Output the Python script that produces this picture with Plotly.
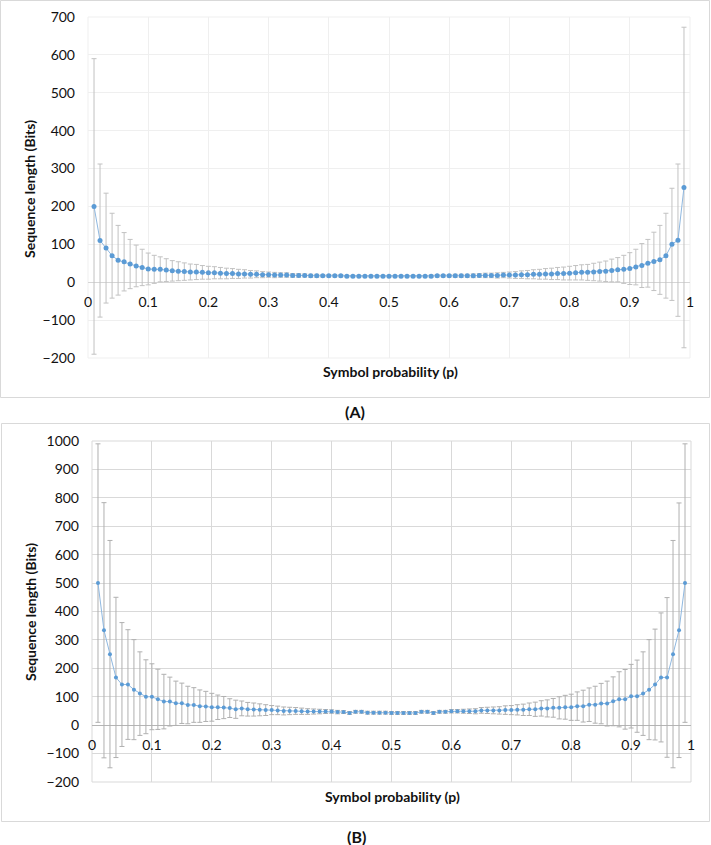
import plotly.graph_objects as go

# --- data ---
p = [0.01, 0.02, 0.03, 0.04, 0.05, 0.06, 0.07, 0.08, 0.09, 0.10,
     0.11, 0.12, 0.13, 0.14, 0.15, 0.16, 0.17, 0.18, 0.19, 0.20,
     0.21, 0.22, 0.23, 0.24, 0.25, 0.26, 0.27, 0.28, 0.29, 0.30,
     0.31, 0.32, 0.33, 0.34, 0.35, 0.36, 0.37, 0.38, 0.39, 0.40,
     0.41, 0.42, 0.43, 0.44, 0.45, 0.46, 0.47, 0.48, 0.49, 0.50,
     0.51, 0.52, 0.53, 0.54, 0.55, 0.56, 0.57, 0.58, 0.59, 0.60,
     0.61, 0.62, 0.63, 0.64, 0.65, 0.66, 0.67, 0.68, 0.69, 0.70,
     0.71, 0.72, 0.73, 0.74, 0.75, 0.76, 0.77, 0.78, 0.79, 0.80,
     0.81, 0.82, 0.83, 0.84, 0.85, 0.86, 0.87, 0.88, 0.89, 0.90,
     0.91, 0.92, 0.93, 0.94, 0.95, 0.96, 0.97, 0.98, 0.99]

len_a = [200, 110, 90, 70, 58, 54, 48, 43, 39, 35,
         34, 34, 32, 30, 29, 28, 27, 27, 26, 25,
         25, 24, 23, 23, 22, 22, 21, 21, 20, 20,
         19, 19, 19, 18, 18, 18, 17, 17, 17, 17,
         17, 17, 16, 16, 16, 16, 16, 16, 16, 16,
         16, 16, 16, 16, 16, 16, 16, 17, 17, 17,
         17, 17, 17, 17, 18, 18, 18, 18, 19, 19,
         19, 20, 20, 21, 21, 22, 22, 23, 23, 24,
         25, 26, 26, 27, 28, 29, 31, 33, 34, 36,
         40, 44, 50, 55, 59, 70, 100, 111, 250]

err_a = [390, 202, 145, 112, 92, 77, 65, 55, 48, 42,
         37, 33, 30, 27, 25, 23, 21, 20, 18, 17,
         16, 15, 14, 13, 12, 11, 10, 9, 8, 7,
         7, 6, 6, 5, 5, 4, 4, 4, 3, 3,
         3, 3, 2, 2, 2, 2, 2, 2, 2, 2,
         2, 2, 2, 2, 2, 2, 3, 3, 3, 3,
         4, 4, 4, 5, 5, 6, 6, 7, 7, 8,
         9, 10, 11, 12, 13, 14, 15, 16, 17, 18,
         19, 20, 21, 23, 25, 27, 30, 32, 37, 42,
         47, 58, 63, 77, 91, 112, 148, 201, 423]

len_b = [500, 334, 250, 168, 143, 143, 125, 111, 100, 100,
         91, 83, 83, 77, 77, 71, 71, 67, 66, 63,
         63, 62, 60, 56, 59, 56, 55, 54, 53, 53,
         52, 50, 50, 50, 49, 48, 48, 48, 48, 48,
         46, 46, 43, 47, 47, 44, 44, 44, 44, 43,
         43, 43, 43, 43, 47, 47, 43, 47, 47, 49,
         49, 49, 49, 49, 52, 52, 52, 52, 53, 53,
         54, 54, 56, 56, 59, 59, 61, 61, 63, 63,
         67, 67, 72, 72, 76, 76, 84, 91, 91, 102,
         102, 111, 125, 143, 168, 168, 250, 334, 500]

err_b = [490, 449, 400, 282, 218, 193, 176, 147, 130, 116,
         106, 96, 86, 78, 71, 66, 61, 57, 53, 49,
         43, 39, 33, 32, 26, 24, 23, 21, 19, 16,
         15, 14, 13, 12, 11, 10, 9, 8, 7, 6,
         6, 5, 5, 5, 5, 5, 5, 5, 5, 5,
         5, 5, 5, 5, 5, 5, 5, 5, 5, 6,
         6, 7, 8, 9, 10, 11, 12, 13, 15, 16,
         18, 20, 22, 25, 27, 30, 33, 39, 42, 46,
         50, 56, 59, 65, 71, 79, 86, 97, 105, 112,
         127, 147, 176, 195, 227, 281, 400, 448, 490]

range_a = [-200, 700]
range_b = [-200, 1000]

x_title = 'Symbol probability (p)'
y_title = 'Sequence length (Bits)'

# --- page geometry (px) ---
W, H = 711, 845
FONT = 'Lato, "Open Sans", sans-serif'
DOT = '#5b9bd5'


def fx(x):
    return x / W


def fy(y):
    return 1 - y / H


def zero_pos(dom, rng):
    # paper position of y=0 inside a y domain
    return dom[0] + (0 - rng[0]) / (rng[1] - rng[0]) * (dom[1] - dom[0])


dom_ax = [fx(88), fx(690)]
dom_ay = [fy(358), fy(17)]
dom_bx = [fx(92), fx(691)]
dom_by = [fy(782), fy(441)]

fig = go.Figure()

fig.add_trace(go.Scatter(
    x=p, y=len_a, mode='lines+markers', xaxis='x', yaxis='y',
    line=dict(color='#8fb8e0', width=1),
    marker=dict(color=DOT, size=5),
    error_y=dict(type='data', array=err_a, visible=True,
                 color='#c2c2c2', thickness=1, width=2.5),
    showlegend=False,
))
fig.add_trace(go.Scatter(
    x=p, y=len_b, mode='lines+markers', xaxis='x2', yaxis='y2',
    line=dict(color='#8fb8e0', width=1),
    marker=dict(color=DOT, size=4),
    error_y=dict(type='data', array=err_b, visible=True,
                 color='#b0b0b0', thickness=1, width=2.5),
    showlegend=False,
))

tick_font = dict(family=FONT, size=14, color='#111111')


def xax(dom, pos, grid):
    return dict(domain=dom, range=[0, 1], dtick=0.1, tick0=0,
                anchor='free', position=pos, automargin=False,
                showgrid=True, gridcolor=grid, gridwidth=1,
                zeroline=False, showline=False, ticks='',
                ticklabelstandoff=10, tickfont=tick_font)


def yax(dom, rng, anchor, grid, zc):
    return dict(domain=dom, range=rng, dtick=100, anchor=anchor,
                automargin=False,
                showgrid=True, gridcolor=grid, gridwidth=1,
                zeroline=True, zerolinecolor=zc, zerolinewidth=1,
                showline=False, ticks='', ticklabelstandoff=12,
                tickfont=tick_font)


fig.update_layout(
    width=W, height=H,
    margin=dict(l=0, r=0, t=0, b=0, pad=0),
    paper_bgcolor='white', plot_bgcolor='white',
    font=dict(family=FONT, color='#111111'),
    xaxis=xax(dom_ax, zero_pos(dom_ay, range_a), '#efefef'),
    yaxis=yax(dom_ay, range_a, 'x', '#efefef', '#d6d6d6'),
    xaxis2=xax(dom_bx, zero_pos(dom_by, range_b), '#d9d9d9'),
    yaxis2=yax(dom_by, range_b, 'x2', '#d9d9d9', '#b5b5b5'),
)

# panel frames
for x0, y0, x1, y1 in [(0.5, 0.5, 709.5, 397.5), (1.5, 423.5, 709.5, 821.5)]:
    fig.add_shape(type='rect', xref='paper', yref='paper',
                  x0=fx(x0), x1=fx(x1), y0=fy(y1), y1=fy(y0),
                  line=dict(color='#d9d9d9', width=1), layer='below')

# plot-area outlines (same tone as the grid)
for xr, yr, col in [('x domain', 'y domain', '#efefef'),
                    ('x2 domain', 'y2 domain', '#d9d9d9')]:
    fig.add_shape(type='rect', xref=xr, yref=yr, x0=0, x1=1, y0=0, y1=1,
                  line=dict(color=col, width=1), layer='below')

title_font = dict(family=FONT, size=14, color='#111111')
label_font = dict(family=FONT, size=16, color='#111111')

notes = [
    (30, 189, '<b>' + y_title + '</b>', -90, title_font),
    (390, 372, '<b>' + x_title + '</b>', 0, title_font),
    (30, 612, '<b>' + y_title + '</b>', -90, title_font),
    (392, 796, '<b>' + x_title + '</b>', 0, title_font),
    (355, 412, '<b>(A)</b>', 0, label_font),
    (356, 836, '<b>(B)</b>', 0, label_font),
]
for x, y, txt, ang, fnt in notes:
    fig.add_annotation(x=fx(x), y=fy(y), xref='paper', yref='paper',
                       text=txt, textangle=ang, showarrow=False,
                       xanchor='center', yanchor='middle', font=fnt)

fig.write_html("out.html", config={'displayModeBar': False},
               post_script="document.body.style.margin='0px';"
                           "document.body.style.overflow='hidden';")
